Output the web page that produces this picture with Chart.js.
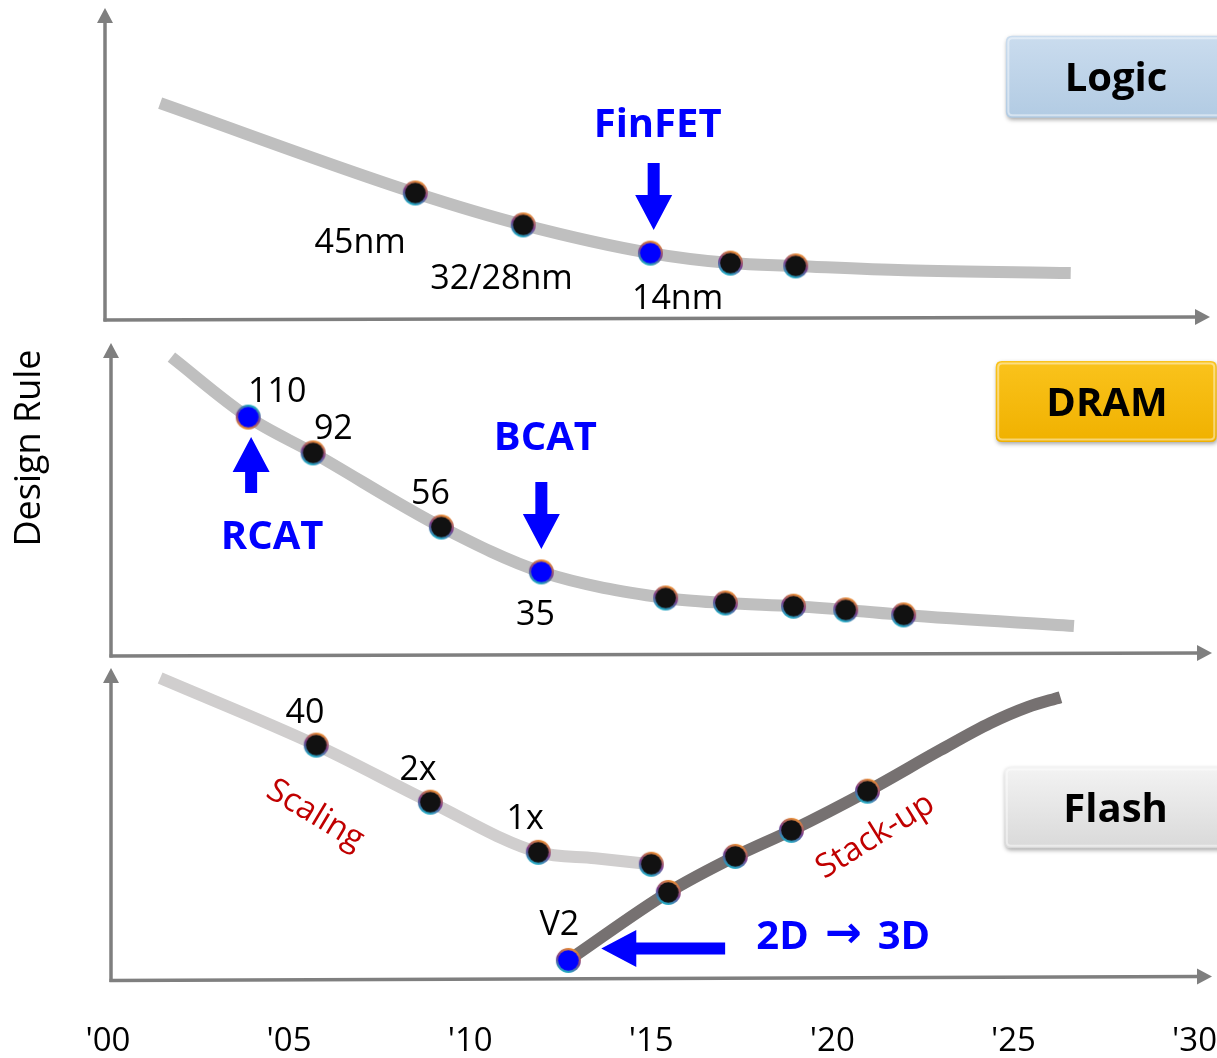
<!DOCTYPE html>
<html>
<head>
<meta charset="utf-8">
<script src="https://cdn.jsdelivr.net/npm/chart.js@4.4.0/dist/chart.umd.min.js"></script>
<style>
html,body{margin:0;padding:0;background:#ffffff;width:1217px;height:1058px;overflow:hidden;}
.panel{position:absolute;left:0;width:1217px;}
canvas{display:block;}
</style>
</head>
<body>
<div class="panel" style="top:0px;height:335px;"><canvas id="cLogic" width="1217" height="335"></canvas></div>
<div class="panel" style="top:335px;height:327px;"><canvas id="cDram" width="1217" height="327"></canvas></div>
<div class="panel" style="top:662px;height:399px;"><canvas id="cFlash" width="1217" height="399"></canvas></div>
<script>
// ---------- DATA (x = years after 2000, y = relative design-rule level 0..100 per panel) ----------
const xTickLabels = ["'00", "'05", "'10", "'15", "'20", "'25", "'30"];
const xTickYears = [0, 5, 10, 15, 20, 25, 30];

// Logic
const logicCurveYears  = [1.44, 8.48, 11.46, 14.97, 17.18, 18.98, 22.0, 26.57];
const logicCurveValues = [69.6, 40.9, 30.7, 21.7, 18.5, 17.6, 16.2, 15.3];
const logicNodeYears   = [8.48, 11.46, 14.97, 17.18, 18.98];
const logicNodeValues  = [40.9, 30.7, 21.7, 18.5, 17.6];
const logicNodeKinds   = ['black', 'black', 'blue', 'black', 'black'];

// DRAM
const dramCurveYears  = [1.75, 3.87, 5.66, 9.20, 11.96, 15.39, 17.04, 18.92, 20.36, 21.96, 26.66];
const dramCurveValues = [95.5, 76.4, 65.0, 41.4, 27.1, 18.8, 17.2, 16.2, 15.0, 13.4, 9.9];
const dramNodeYears   = [3.87, 5.66, 9.20, 11.96, 15.39, 17.04, 18.92, 20.36, 21.96];
const dramNodeValues  = [76.4, 65.0, 41.4, 27.1, 18.8, 17.2, 16.2, 15.0, 13.4];
const dramNodeKinds   = ['blueInv', 'black', 'black', 'blue', 'black', 'black', 'black', 'black', 'black'];

// Flash – 2D scaling
const flashScalingYears  = [1.44, 5.75, 8.90, 11.88, 13.45, 15.0];
const flashScalingValues = [96.8, 75.4, 57.2, 41.2, 39.3, 37.4];
const flashScalingNodeYears  = [5.75, 8.90, 11.88, 15.0];
const flashScalingNodeValues = [75.4, 57.2, 41.2, 37.4];
// Flash – 3D stack-up
const flashStackYears  = [12.71, 15.47, 17.32, 18.87, 20.97, 22.98, 24.36, 25.39, 26.30];
const flashStackValues = [6.7, 28.4, 39.9, 48.2, 60.7, 73.8, 82.4, 87.5, 90.7];
const flashStackNodeYears  = [12.71, 15.47, 17.32, 18.87, 20.97];
const flashStackNodeValues = [6.7, 28.4, 39.9, 48.2, 60.7];
const flashStackNodeKinds  = ['blue', 'black', 'black', 'black', 'black'];

// Text annotations (anchored in data units)
const logicLabels = [
  {text: '45nm', x: 6.96, y: 25.9},
  {text: '32/28nm', x: 10.86, y: 14.4},
  {text: '14nm', x: 15.72, y: 8.0}
];
const logicKeys = [{text: 'FinFET', x: 15.17, y: 63.3}];
const logicArrows = [{x1: 15.06, y1: 50.5, x2: 15.06, y2: 29.1}];

const dramLabels = [
  {text: '110', x: 4.67, y: 85.4},
  {text: '92', x: 6.22, y: 73.6},
  {text: '56', x: 8.90, y: 52.9},
  {text: '35', x: 11.80, y: 14.3}
];
const dramKeys = [{text: 'RCAT', x: 4.53, y: 38.9}, {text: 'BCAT', x: 12.07, y: 70.4}];
const dramArrows = [{x1: 3.95, y1: 52.2, x2: 3.95, y2: 70.1}, {x1: 11.96, y1: 55.7, x2: 11.96, y2: 34.4}];

const flashLabels = [
  {text: '40', x: 5.44, y: 86.6},
  {text: '2x', x: 8.56, y: 68.4},
  {text: '1x', x: 11.52, y: 52.7},
  {text: 'V2', x: 12.46, y: 18.8}
];
const flashKeys = [{parts: ['2D', '\u2192', '3D'], x: 20.30, y: 15.0}];
const flashArrows = [{x1: 17.04, y1: 10.5, x2: 13.62, y2: 10.5}];
const flashTrendLabels = [
  {text: 'Scaling', x: 5.72, y: 54.0, rot: 31},
  {text: 'Stack-up', x: 21.19, y: 47.3, rot: -32}
];

const badges = {
  logic: {text: 'Logic', x0: 24.78, x1: 31.5, y0: 91.1, y1: 64.9, tx: 27.82},
  dram:  {text: 'DRAM',  x0: 24.50, x1: 30.6, y0: 94.3, y1: 68.5, tx: 27.57},
  flash: {text: 'Flash', x0: 24.75, x1: 31.5, y0: 68.4, y1: 42.5, tx: 27.82}
};

// ---------- STYLE ----------
const FONT = '"Open Sans", "Noto Sans", "DejaVu Sans", sans-serif';
const AXIS_COLOR = '#7f7f7f';
const BLUE = '#0000ff';
const RED = '#c00000';
const TEXT_DY = 3;

function makeMarker(fill, inverted) {
  const c = document.createElement('canvas');
  c.width = 27; c.height = 27;
  const g = c.getContext('2d');
  const grad = g.createLinearGradient(18, 1, 9, 26);
  const top = '#f0922c', mid = '#7b3f8f', bot = '#14b2c6';
  grad.addColorStop(0, inverted ? bot : top);
  grad.addColorStop(0.5, mid);
  grad.addColorStop(1, inverted ? top : bot);
  g.beginPath(); g.arc(13.5, 13.5, 12.5, 0, Math.PI * 2); g.fillStyle = grad; g.fill();
  g.beginPath(); g.arc(13.5, 13.5, 10.3, 0, Math.PI * 2); g.fillStyle = fill; g.fill();
  return c;
}
const markers = {
  black: makeMarker('#111111', false),
  blue: makeMarker('#0000ff', false),
  blueInv: makeMarker('#0000ff', true)
};

function pts(xs, ys) { return xs.map((x, i) => ({x: x, y: ys[i]})); }

function blockArrow(ctx, x1, y1, x2, y2, shaftW, headW, headL, color) {
  const dx = x2 - x1, dy = y2 - y1, len = Math.hypot(dx, dy);
  const ux = dx / len, uy = dy / len, nx = -uy, ny = ux;
  const bx = x2 - ux * headL, by = y2 - uy * headL;
  ctx.save();
  ctx.fillStyle = color;
  ctx.beginPath();
  ctx.moveTo(x1 + nx * shaftW / 2, y1 + ny * shaftW / 2);
  ctx.lineTo(bx + nx * shaftW / 2, by + ny * shaftW / 2);
  ctx.lineTo(bx + nx * headW / 2, by + ny * headW / 2);
  ctx.lineTo(x2, y2);
  ctx.lineTo(bx - nx * headW / 2, by - ny * headW / 2);
  ctx.lineTo(bx - nx * shaftW / 2, by - ny * shaftW / 2);
  ctx.lineTo(x1 - nx * shaftW / 2, y1 - ny * shaftW / 2);
  ctx.closePath();
  ctx.fill();
  ctx.restore();
}

function roundRectPath(ctx, x, y, w, h, r) {
  ctx.beginPath();
  ctx.moveTo(x + r, y);
  ctx.lineTo(x + w - r, y); ctx.quadraticCurveTo(x + w, y, x + w, y + r);
  ctx.lineTo(x + w, y + h - r); ctx.quadraticCurveTo(x + w, y + h, x + w - r, y + h);
  ctx.lineTo(x + r, y + h); ctx.quadraticCurveTo(x, y + h, x, y + h - r);
  ctx.lineTo(x, y + r); ctx.quadraticCurveTo(x, y, x + r, y);
  ctx.closePath();
}

const decorPlugin = {
  id: 'decor',
  beforeDatasetsDraw(chart) {
    const d = chart.options.plugins.decor; if (!d) return;
    const ctx = chart.ctx, a = chart.chartArea;
    const ax = a.left + d.axisDx, ay = a.bottom - 1, top = a.top, xTip = d.xTip;
    ctx.save();
    ctx.strokeStyle = AXIS_COLOR; ctx.fillStyle = AXIS_COLOR; ctx.lineWidth = 3.5;
    ctx.beginPath(); ctx.moveTo(ax, ay + 1.5); ctx.lineTo(ax, top + 12); ctx.stroke();
    ctx.beginPath(); ctx.moveTo(ax, top); ctx.lineTo(ax - 8, top + 15); ctx.lineTo(ax + 8, top + 15); ctx.closePath(); ctx.fill();
    ctx.beginPath(); ctx.moveTo(ax - 1.5, ay); ctx.lineTo(xTip - 12, ay - d.slant); ctx.stroke();
    ctx.beginPath(); ctx.moveTo(xTip, ay - d.slant); ctx.lineTo(xTip - 15, ay - d.slant - 8); ctx.lineTo(xTip - 15, ay - d.slant + 8); ctx.closePath(); ctx.fill();
    ctx.restore();
  },
  afterDatasetsDraw(chart) {
    const d = chart.options.plugins.decor; if (!d) return;
    const ctx = chart.ctx, xs = chart.scales.x, ys = chart.scales.y;
    const X = v => xs.getPixelForValue(v), Y = v => ys.getPixelForValue(v) + TEXT_DY;
    const YB = v => ys.getPixelForValue(v);
    ctx.save();
    // badge
    if (d.badge) {
      const b = d.badge;
      const x0 = X(b.x0), x1 = X(b.x1), y0 = YB(b.y0), y1 = YB(b.y1);
      ctx.save();
      ctx.shadowColor = 'rgba(0,0,0,0.35)'; ctx.shadowBlur = 4; ctx.shadowOffsetX = 1; ctx.shadowOffsetY = 2;
      roundRectPath(ctx, x0, y0, x1 - x0, y1 - y0, 6);
      const g = ctx.createLinearGradient(0, y0, 0, y1);
      g.addColorStop(0, d.badgeColors[0]); g.addColorStop(1, d.badgeColors[1]);
      ctx.fillStyle = g; ctx.fill();
      ctx.restore();
      ctx.save();
      roundRectPath(ctx, x0 + 2.5, y0 + 2.5, x1 - x0 - 5, y1 - y0 - 5, 4);
      ctx.strokeStyle = 'rgba(255,255,255,0.45)'; ctx.lineWidth = 2; ctx.stroke();
      ctx.restore();
      ctx.fillStyle = '#000000';
      ctx.font = 'bold 40px ' + FONT; ctx.textAlign = 'center'; ctx.textBaseline = 'middle';
      ctx.fillText(b.text, X(b.tx), (y0 + y1) / 2 + TEXT_DY);
    }
    // arrows
    (d.arrows || []).forEach(ar => {
      blockArrow(ctx, X(ar.x1), YB(ar.y1), X(ar.x2), YB(ar.y2), 12, 37, 35, BLUE);
    });
    // labels
    ctx.textAlign = 'center'; ctx.textBaseline = 'middle';
    ctx.fillStyle = '#000000'; ctx.font = '34px ' + FONT;
    (d.labels || []).forEach(l => ctx.fillText(l.text, X(l.x), Y(l.y)));
    ctx.fillStyle = BLUE;
    (d.keys || []).forEach(l => {
      if (l.parts) {
        const fonts = ['bold 40px ' + FONT, 'bold 44px "DejaVu Sans", sans-serif', 'bold 40px ' + FONT];
        const gap = 16;
        const widths = l.parts.map((p, i) => { ctx.font = fonts[i]; return ctx.measureText(p).width; });
        const total = widths.reduce((s, w) => s + w, 0) + gap * (l.parts.length - 1);
        let cx = X(l.x) - total / 2;
        ctx.textAlign = 'left';
        l.parts.forEach((p, i) => { ctx.font = fonts[i]; ctx.fillText(p, cx, Y(l.y) + (i === 1 ? -2 : 0)); cx += widths[i] + gap; });
        ctx.textAlign = 'center';
      } else {
        ctx.font = 'bold 40px ' + FONT;
        ctx.fillText(l.text, X(l.x), Y(l.y));
      }
    });
    ctx.fillStyle = RED; ctx.font = '33px ' + FONT;
    (d.trends || []).forEach(l => {
      ctx.save(); ctx.translate(X(l.x), Y(l.y)); ctx.rotate(l.rot * Math.PI / 180);
      ctx.fillText(l.text, 0, 0); ctx.restore();
    });
    if (d.yTitle) {
      ctx.save(); ctx.translate(d.yTitle.px, d.yTitle.py); ctx.rotate(-Math.PI / 2);
      ctx.fillStyle = '#000000'; ctx.font = '36px ' + FONT;
      ctx.fillText(d.yTitle.text, 0, 0); ctx.restore();
    }
    ctx.restore();
  }
};

function baseOptions(padding, decor, showX) {
  return {
    responsive: false,
    animation: false,
    events: [],
    layout: {padding: padding, autoPadding: false},
    scales: {
      x: {
        type: 'linear', min: 0, max: 30, display: showX,
        grid: {display: true, drawOnChartArea: false, drawTicks: true, tickLength: 40, color: 'rgba(0,0,0,0)'},
        border: {display: false},
        afterBuildTicks: (scale) => { scale.ticks = xTickYears.map(v => ({value: v})); },
        ticks: {
          padding: 0, color: '#000000', maxRotation: 0, autoSkip: false,
          font: {family: FONT, size: 33},
          callback: (v) => xTickLabels[xTickYears.indexOf(v)]
        }
      },
      y: {type: 'linear', min: 0, max: 100, display: false}
    },
    plugins: {legend: {display: false}, tooltip: {enabled: false}, decor: decor}
  };
}

function curveDs(xs, ys, color) {
  return {type: 'line', data: pts(xs, ys), borderColor: color, borderWidth: 12, pointRadius: 0,
          cubicInterpolationMode: 'monotone', borderCapStyle: 'butt', borderJoinStyle: 'round', fill: false, order: 5, clip: false};
}
function nodeDs(xs, ys, kinds) {
  return {type: 'line', data: pts(xs, ys), showLine: false, pointStyle: kinds.map(k => markers[k]),
          pointRadius: 13, order: 1, clip: false};
}

new Chart(document.getElementById('cLogic'), {
  type: 'line',
  data: {datasets: [
    curveDs(logicCurveYears, logicCurveValues, '#bfbfbf'),
    nodeDs(logicNodeYears, logicNodeValues, logicNodeKinds)
  ]},
  options: baseOptions({left: 108, right: 22, top: 8, bottom: 14},
    {axisDx: -3, xTip: 1210, slant: 3, badge: badges.logic, badgeColors: ['#cadcee', '#b2cbe3'],
     labels: logicLabels, keys: logicKeys, arrows: logicArrows}, false),
  plugins: [decorPlugin]
});

new Chart(document.getElementById('cDram'), {
  type: 'line',
  data: {datasets: [
    curveDs(dramCurveYears, dramCurveValues, '#bfbfbf'),
    nodeDs(dramNodeYears, dramNodeValues, dramNodeKinds)
  ]},
  options: baseOptions({left: 108, right: 22, top: 8, bottom: 5},
    {axisDx: 3, xTip: 1212, slant: 3, badge: badges.dram, badgeColors: ['#fac31c', '#f0b100'],
     labels: dramLabels, keys: dramKeys, arrows: dramArrows,
     yTitle: {text: 'Design Rule', px: 30, py: 113}}, false),
  plugins: [decorPlugin]
});

new Chart(document.getElementById('cFlash'), {
  type: 'line',
  data: {datasets: [
    curveDs(flashScalingYears, flashScalingValues, '#d0cece'),
    curveDs(flashStackYears, flashStackValues, '#767171'),
    nodeDs(flashScalingNodeYears, flashScalingNodeValues, flashScalingNodeYears.map(() => 'black')),
    nodeDs(flashStackNodeYears, flashStackNodeValues, flashStackNodeKinds)
  ]},
  options: baseOptions({left: 108, right: 22, top: 6, bottom: 0},
    {axisDx: 3, xTip: 1212, slant: 4, badge: badges.flash, badgeColors: ['#f3f3f3', '#d9d9d9'],
     labels: flashLabels, keys: flashKeys, arrows: flashArrows, trends: flashTrendLabels}, true),
  plugins: [decorPlugin]
});
</script>
</body>
</html>
